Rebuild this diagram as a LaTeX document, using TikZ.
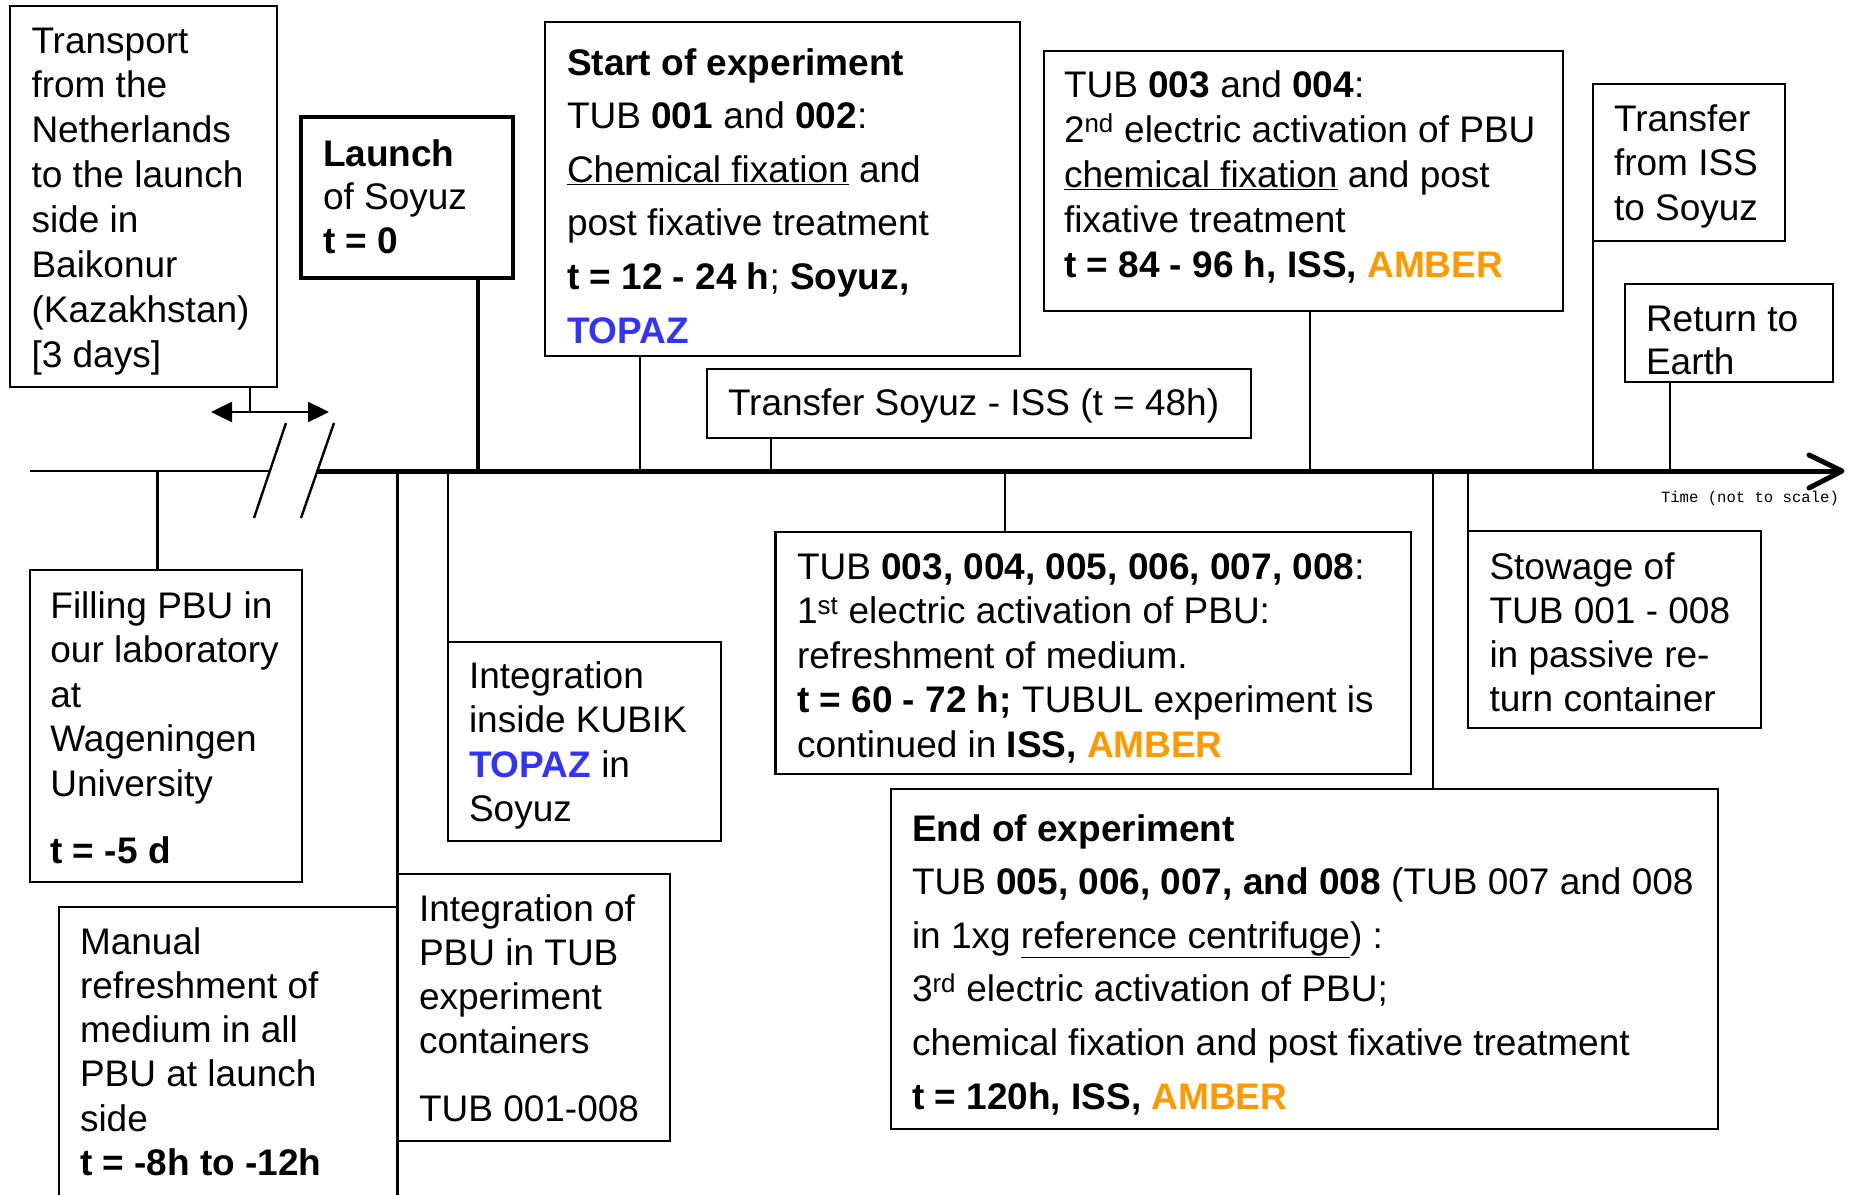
\documentclass[tikz,border=0pt]{standalone}
\usepackage{fontspec}
\setmainfont{Liberation Sans}
\newfontfamily\timefont{Liberation Mono}
\usetikzlibrary{arrows.meta}
\definecolor{topazblue}{RGB}{51,51,255}
\definecolor{amberorange}{RGB}{255,153,0}
\newcommand\tpz{\textcolor{topazblue}{\textbf{TOPAZ}}}
\newcommand\amb{\textcolor{amberorange}{\textbf{AMBER}}}
\newcommand\blk[1]{\begin{tabular}[t]{@{}l@{}}#1\end{tabular}}
\begin{document}
\begin{tikzpicture}[x=1pt,y=-1pt,
  box/.style={draw, line width=2.2pt, inner sep=0pt, outer sep=0pt, anchor=north west},
  txt/.style={anchor=base west, inner sep=0pt, outer sep=0pt},
  conn/.style={line width=2.1pt},
]
\useasboundingbox (0,0) rectangle (1854,1194);
\clip (0,0) rectangle (1854,1194);

% ---------- boxes ----------
\node[box, minimum width=267.4pt, minimum height=381pt] (transport) at (9.6,6) {};
\node[box, line width=4pt, minimum width=212pt, minimum height=161pt] (launch) at (301,117) {};
\node[box, minimum width=475pt, minimum height=334pt] (start) at (545,22) {};
\node[box, minimum width=544pt, minimum height=69pt] (transfer) at (707,369) {};
\node[box, minimum width=519pt, minimum height=260pt] (tubA) at (1044,51) {};
\node[box, minimum width=192pt, minimum height=157pt] (fromiss) at (1593,84) {};
\node[box, minimum width=208pt, minimum height=98pt] (ret) at (1625,284) {};
\node[box, minimum width=272pt, minimum height=312pt] (filling) at (30,570) {};
\node[box, minimum width=273pt, minimum height=199pt] (kubik) at (448,642) {};
\node[box, minimum width=338.5pt, minimum height=353pt] (manual) at (59,907) {};
\node[box, minimum width=272.5pt, minimum height=267pt] (integ) at (397.5,874) {};
\node[box, minimum width=635.5pt, minimum height=242pt] (tubB) at (775.5,532) {};
\node[box, minimum width=827.4pt, minimum height=340pt] (endexp) at (890.6,789) {};
\node[box, minimum width=293pt, minimum height=197pt] (stow) at (1468,531) {};

% ---------- timeline ----------
\coordinate (tl0) at (30,471);
\coordinate (brkA) at (270,471);
\coordinate (brkB) at (317.5,471);
\coordinate (tip) at (1842,471);
\coordinate (chevU) at (1809,455);
\coordinate (chevD) at (1809,488);
\draw[line width=2.7pt] (tl0) -- (brkA);
\draw[line width=5pt] (brkB) -- (tip);
\draw[line width=5pt, line cap=round, line join=round] (chevU) -- (tip) -- (chevD);
% break marks
\draw[line width=2.4pt] (286,423) -- (254,518);
\draw[line width=2.4pt] (334,423) -- (301,518);

% ---------- connectors above ----------
\coordinate (cLaunch) at (477.5,471);
\coordinate (cStart) at (640,471);
\coordinate (cTransfer) at (771,471);
\coordinate (cTubA) at (1310,471);
\coordinate (cFromiss) at (1593,471);
\coordinate (cRet) at (1670,471);
\draw[line width=4pt] (launch.south -| cLaunch) -- (cLaunch);
\draw[conn] (start.south -| cStart) -- (cStart);
\draw[conn] (transfer.south -| cTransfer) -- (cTransfer);
\draw[conn] (tubA.south -| cTubA) -- (cTubA);
\draw[conn] (fromiss.south west) -- (cFromiss);
\draw[conn] (ret.south -| cRet) -- (cRet);

% ---------- connectors below ----------
\coordinate (cFilling) at (157.5,471);
\coordinate (cInteg) at (397.5,471);
\coordinate (cKubik) at (448,471);
\coordinate (cTubB) at (1005,471);
\coordinate (cEnd) at (1433,471);
\coordinate (cStow) at (1468,471);
\draw[conn] (cFilling) -- (filling.north -| cFilling);
\draw[conn] (cInteg) -- (integ.north west);
\draw[conn] (cKubik) -- (kubik.north west);
\draw[conn] (cTubB) -- (tubB.north -| cTubB);
\draw[conn] (cEnd) -- (endexp.north -| cEnd);
\draw[conn] (cStow) -- (stow.north west);

% transport double arrow
\coordinate (dbl) at (250,412);
\coordinate (arrL) at (211,412);
\coordinate (arrR) at (329,412);
\draw[conn] (transport.south -| dbl) -- (dbl);
\draw[line width=2.4pt, {Triangle[length=21pt,width=20pt]}-{Triangle[length=21pt,width=20pt]}] (arrL) -- (arrR);

% ---------- texts ----------
\node[txt, font=\fontsize{37}{44.9}\selectfont] (tTransport) at (31.5,53) {\blk{Transport\\ from the\\ Netherlands\\ to the launch\\ side in\\ Baikonur\\ (Kazakhstan)\\ {[}3 days]}};

\node[txt, font=\fontsize{37}{43.5}\selectfont] (tLaunch) at (323,166) {\blk{\textbf{Launch}\\ of Soyuz\\ \textbf{t = 0}}};

\node[txt, font=\fontsize{37}{53.6}\selectfont] (tStart) at (567,75) {\blk{\textbf{Start of experiment}\\
TUB \textbf{001} and \textbf{002}:\\
\underline{Chemical fixation} and\\
post fixative treatment\\
\textbf{t = 12 - 24 h}; \textbf{Soyuz,}\\
\tpz}};

\node[txt, font=\fontsize{37}{44.5}\selectfont] (tTransfer) at (728,415) {Transfer Soyuz - ISS (t = 48h)};

\node[txt, font=\fontsize{37}{45}\selectfont] (tTubA) at (1064,97) {\blk{TUB \textbf{003} and \textbf{004}:\\
2\textsuperscript{nd} electric activation of PBU\\
\underline{chemical fixation} and post\\
fixative treatment\\
\textbf{t = 84 - 96 h, ISS,} \amb}};

\node[txt, font=\fontsize{37}{44.5}\selectfont] (tFromiss) at (1614,131) {\blk{Transfer\\ from ISS\\ to Soyuz}};

\node[txt, font=\fontsize{37}{43.5}\selectfont] (tRet) at (1646,331) {\blk{Return to\\ Earth}};

\node[txt, font=\timefont\fontsize{15.6}{18}\selectfont] (tTime) at (1661,502) {Time (not to scale)};

\node[txt, font=\fontsize{37}{44.5}\selectfont] (tFilling) at (50.4,618) {\blk{Filling PBU in\\ our laboratory\\ at\\ Wageningen\\ University\\[22.5pt] \textbf{t = -5 d}}};

\node[txt, font=\fontsize{37}{44.2}\selectfont] (tKubik) at (469,688.6) {\blk{Integration\\ inside KUBIK\\ \tpz{} in\\ Soyuz}};

\node[txt, font=\fontsize{37}{44.3}\selectfont] (tManual) at (80,954) {\blk{Manual\\ refreshment of\\ medium in all\\ PBU at launch\\ side\\ \textbf{t = -8h to -12h}}};

\node[txt, font=\fontsize{37}{44}\selectfont] (tInteg) at (419,921) {\blk{Integration of\\ PBU in TUB\\ experiment\\ containers\\[24pt] TUB 001-008}};

\node[txt, font=\fontsize{37}{44.5}\selectfont] (tTubB) at (797,579) {\blk{TUB \textbf{003, 004, 005, 006, 007, 008}:\\
1\textsuperscript{st} electric activation of PBU:\\
refreshment of medium.\\
\textbf{t = 60 - 72 h;} TUBUL experiment is\\
continued in \textbf{ISS,} \amb}};

\node[txt, font=\fontsize{37}{44.3}\selectfont] (tStow) at (1489.5,579) {\blk{Stowage of\\ TUB 001 - 008\\ in passive re-\\ turn container}};

\node[txt, font=\fontsize{37}{53.6}\selectfont] (tEnd) at (912,841) {\blk{\textbf{End of experiment}\\
TUB \textbf{005, 006, 007, and 008} (TUB 007 and 008\\
in 1xg \underline{reference centrifuge}) :\\
3\textsuperscript{rd} electric activation of PBU;\\
chemical fixation and post fixative treatment\\
\textbf{t = 120h, ISS,} \amb}};
\end{tikzpicture}
\end{document}
